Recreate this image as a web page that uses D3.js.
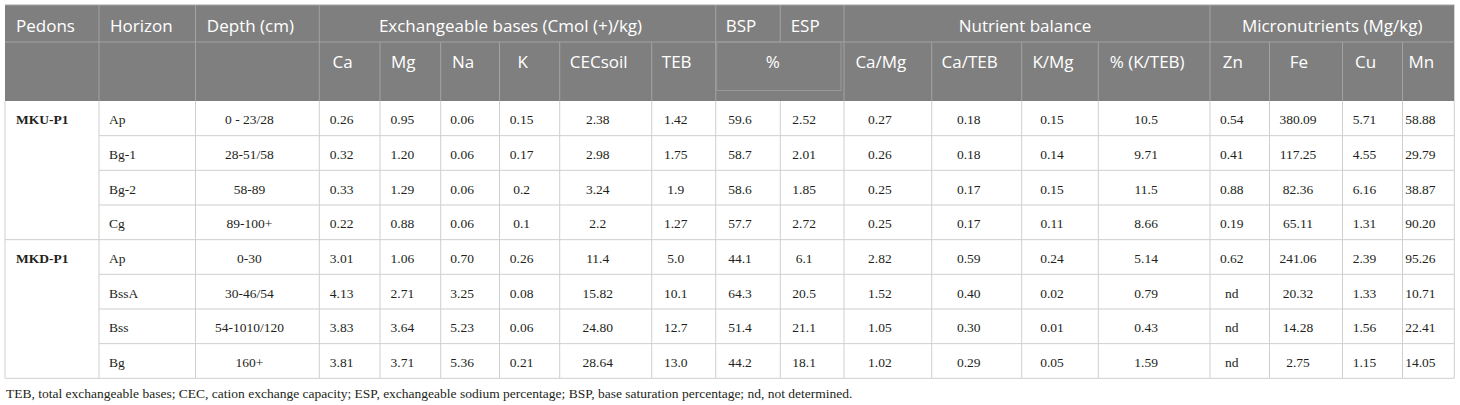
<!DOCTYPE html>
<html>
<head>
<meta charset="utf-8">
<style>
  body { margin: 0; background: #fff; }
  svg { display: block; }
  .hd { font-family: "Open Sans"; font-size: 17px; fill: #fff; }
  .bd { font-family: "Liberation Serif"; font-size: 13.5px; fill: #231f20; }
  .ft { font-family: "Liberation Serif"; font-size: 13.5px; fill: #231f20; }
</style>
</head>
<body>
<svg width="1460" height="405"></svg>
<script src="https://d3js.org/d3.v7.min.js"></script>
<script>

// table values, one array per column
var pedons = ["MKU-P1", "MKD-P1"];
var horizon = ["Ap", "Bg-1", "Bg-2", "Cg", "Ap", "BssA", "Bss", "Bg"];
var depth = ["0 - 23/28", "28-51/58", "58-89", "89-100+", "0-30", "30-46/54", "54-1010/120", "160+"];
var ca = ["0.26", "0.32", "0.33", "0.22", "3.01", "4.13", "3.83", "3.81"];
var mg = ["0.95", "1.20", "1.29", "0.88", "1.06", "2.71", "3.64", "3.71"];
var na = ["0.06", "0.06", "0.06", "0.06", "0.70", "3.25", "5.23", "5.36"];
var k = ["0.15", "0.17", "0.2", "0.1", "0.26", "0.08", "0.06", "0.21"];
var cecSoil = ["2.38", "2.98", "3.24", "2.2", "11.4", "15.82", "24.80", "28.64"];
var teb = ["1.42", "1.75", "1.9", "1.27", "5.0", "10.1", "12.7", "13.0"];
var bsp = ["59.6", "58.7", "58.6", "57.7", "44.1", "64.3", "51.4", "44.2"];
var esp = ["2.52", "2.01", "1.85", "2.72", "6.1", "20.5", "21.1", "18.1"];
var caMg = ["0.27", "0.26", "0.25", "0.25", "2.82", "1.52", "1.05", "1.02"];
var caTeb = ["0.18", "0.18", "0.17", "0.17", "0.59", "0.40", "0.30", "0.29"];
var kMg = ["0.15", "0.14", "0.15", "0.11", "0.24", "0.02", "0.01", "0.05"];
var kTebPct = ["10.5", "9.71", "11.5", "8.66", "5.14", "0.79", "0.43", "1.59"];
var zn = ["0.54", "0.41", "0.88", "0.19", "0.62", "nd", "nd", "nd"];
var fe = ["380.09", "117.25", "82.36", "65.11", "241.06", "20.32", "14.28", "2.75"];
var cu = ["5.71", "4.55", "6.16", "1.31", "2.39", "1.33", "1.56", "1.15"];
var mn = ["58.88", "29.79", "38.87", "90.20", "95.26", "10.71", "22.41", "14.05"];

var subHeaders = ["", "", "", "Ca", "Mg", "Na", "K", "CECsoil", "TEB", "%", "", "Ca/Mg", "Ca/TEB", "K/Mg", "% (K/TEB)", "Zn", "Fe", "Cu", "Mn"];
var groupHeaders = [
  {text: "Pedons", from: 0, to: 0, align: "left"},
  {text: "Horizon", from: 1, to: 1, align: "left"},
  {text: "Depth (cm)", from: 2, to: 2},
  {text: "Exchangeable bases (Cmol (+)/kg)", from: 3, to: 8},
  {text: "BSP", from: 9, to: 9},
  {text: "ESP", from: 10, to: 10},
  {text: "Nutrient balance", from: 11, to: 14},
  {text: "Micronutrients (Mg/kg)", from: 15, to: 18}
];
var footnote = "TEB, total exchangeable bases; CEC, cation exchange capacity; ESP, exchangeable sodium percentage; BSP, base saturation percentage; nd, not determined.";

var columns = [null, horizon, depth, ca, mg, na, k, cecSoil, teb, bsp, esp, caMg, caTeb, kMg, kTebPct, zn, fe, cu, mn];

// layout
var colEdges = [5, 99, 195.5, 319.3, 380, 440.7, 499.5, 559.7, 651.7, 715.7, 780.3, 844, 931.7, 1021.7, 1098.3, 1210, 1269.5, 1342.5, 1402.5, 1454.3];
var headTop = 5, headMid = 42, headBot = 101, tableBot = 378.3;
var centerShift = -8;

var svg = d3.select("svg");

var x = d3.scaleLinear().domain([0, colEdges.length - 1]).range([0, colEdges.length - 1]);
function left(i) { return colEdges[Math.round(x(i))]; }
function right(i) { return colEdges[Math.round(x(i)) + 1]; }

var y = d3.scaleBand()
    .domain(d3.range(horizon.length))
    .range([headBot, tableBot]);

// header background
svg.append("rect")
    .attr("x", colEdges[0])
    .attr("y", headTop)
    .attr("width", colEdges[colEdges.length - 1] - colEdges[0])
    .attr("height", headBot - headTop)
    .attr("fill", "#7f7f7f");

var hl = svg.append("g").attr("stroke", "#a3a3a3").attr("stroke-width", 1).attr("fill", "none");
hl.append("line").attr("x1", colEdges[0]).attr("x2", colEdges[colEdges.length - 1]).attr("y1", headTop).attr("y2", headTop);
hl.append("line").attr("x1", colEdges[0]).attr("x2", colEdges[colEdges.length - 1]).attr("y1", headMid).attr("y2", headMid);

// header row 1 verticals
hl.selectAll(".v1").data(groupHeaders.slice(1)).enter().append("line")
    .attr("x1", function(d) { return left(d.from); })
    .attr("x2", function(d) { return left(d.from); })
    .attr("y1", headTop).attr("y2", headMid);

// header row 2 verticals (BSP and ESP share the % cell)
hl.selectAll(".v2").data(d3.range(1, subHeaders.length).filter(function(i) { return i != 10; })).enter().append("line")
    .attr("x1", function(i) { return left(i); })
    .attr("x2", function(i) { return left(i); })
    .attr("y1", headMid).attr("y2", headBot);

// the little inner box under %
hl.append("rect")
    .attr("x", left(9) + 1)
    .attr("y", headMid)
    .attr("width", right(10) - left(9) - 4)
    .attr("height", 48.5)
    .attr("stroke", "#9a9a9a");

svg.selectAll(".gh").data(groupHeaders).enter().append("text")
    .attr("class", "hd")
    .attr("x", function(d) {
      if (d.align == "left") return left(d.from) + 11;
      var c = (left(d.from) + right(d.to)) / 2;
      if (d.from == 11) return c - 2;
      if (d.from == 15) return c;
      return c + centerShift + 1;
    })
    .attr("y", 31.5)
    .attr("text-anchor", function(d) { return d.align == "left" ? "start" : "middle"; })
    .text(function(d) { return d.text; });

svg.selectAll(".sh").data(subHeaders).enter().append("text")
    .attr("class", "hd")
    .attr("x", function(d, i) {
      if (i == 9) return (left(9) + right(10)) / 2 + centerShift + 1;
      return (left(i) + right(i)) / 2 + centerShift + 1;
    })
    .attr("y", 68)
    .attr("text-anchor", "middle")
    .text(function(d) { return d; });

// body grid
var bl = svg.append("g").attr("stroke", "#cfcfcf").attr("stroke-width", 1);
var rowLines = d3.range(1, horizon.length + 1);
bl.selectAll(".hz").data(rowLines).enter().append("line")
    .attr("x1", function(r) { return r == 4 || r == horizon.length ? colEdges[0] : colEdges[1]; })
    .attr("x2", colEdges[colEdges.length - 1])
    .attr("y1", function(r) { return r == horizon.length ? tableBot : y(r); })
    .attr("y2", function(r) { return r == horizon.length ? tableBot : y(r); });
bl.selectAll(".vt").data(colEdges).enter().append("line")
    .attr("x1", function(d) { return d; })
    .attr("x2", function(d) { return d; })
    .attr("y1", headBot).attr("y2", tableBot);

// pedon labels, one per group of four horizons
svg.selectAll(".ped").data(pedons).enter().append("text")
    .attr("class", "bd")
    .attr("font-weight", "bold")
    .attr("x", colEdges[0] + 11)
    .attr("y", function(d, i) { return y(i * 4) + 23.3; })
    .text(function(d) { return d; });

columns.forEach(function(col, ci) {
  if (!col) return;
  svg.selectAll(".c" + ci).data(col).enter().append("text")
      .attr("class", "bd")
      .attr("x", ci == 1 ? left(ci) + 10 : (left(ci) + right(ci)) / 2 + centerShift)
      .attr("y", function(d, i) { return y(i) + 23.3; })
      .attr("text-anchor", ci == 1 ? "start" : "middle")
      .text(function(d) { return d; });
});

svg.append("text")
    .attr("class", "ft")
    .attr("x", 6)
    .attr("y", 397.5)
    .text(footnote);

</script>
</body>
</html>
